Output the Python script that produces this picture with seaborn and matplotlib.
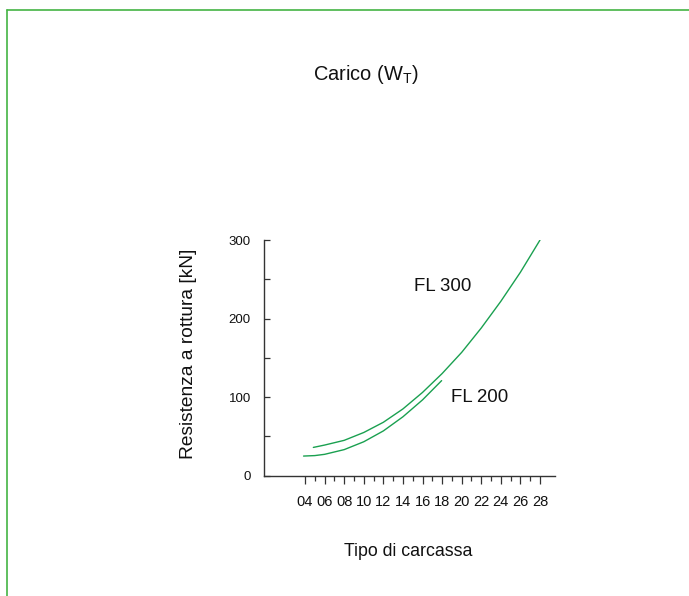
import matplotlib
matplotlib.use("Agg")
import matplotlib.pyplot as plt
from matplotlib.lines import Line2D
from matplotlib.ticker import FixedLocator
from matplotlib import font_manager
from matplotlib.font_manager import FontProperties
import seaborn as sns
import pandas as pd

# Data
fl300_x = [4.85, 6, 8, 10, 12, 14, 16, 18, 20, 22, 24, 26, 28]
fl300_y = [36, 39, 45, 55, 68, 85, 106, 130, 157, 188, 222, 259, 300]
fl200_x = [3.85, 5, 6, 8, 10, 12, 14, 16, 17.95]
fl200_y = [25, 25.6, 27.2, 33.2, 43.2, 57, 75, 96.5, 121]
x_ticks = [4, 6, 8, 10, 12, 14, 16, 18, 20, 22, 24, 26, 28]
x_minor = [5, 7, 9, 11, 13, 15, 17, 19, 21, 23, 25, 27]
x_tick_labels = ["04", "06", "08", "10", "12", "14", "16", "18", "20", "22", "24", "26", "28"]
y_ticks = [0, 100, 200, 300]
y_minor = [50, 150, 250]
series_names = ["FL 300", "FL 200"]

sns.set_style("white")
plt.rcParams['font.family'] = ['Liberation Sans', 'DejaVu Sans']
plt.rcParams['mathtext.fontset'] = 'custom'
plt.rcParams['mathtext.rm'] = 'Liberation Sans'

try:
    font_manager.findfont(FontProperties(family='Liberation Sans Narrow'),
                          fallback_to_default=False)
    narrow = ['Liberation Sans Narrow', 'Liberation Sans', 'DejaVu Sans']
except Exception:
    narrow = ['Liberation Sans', 'DejaVu Sans']

df = pd.concat([
    pd.DataFrame({"x": fl300_x, "y": fl300_y, "s": series_names[0]}),
    pd.DataFrame({"x": fl200_x, "y": fl200_y, "s": series_names[1]}),
])

fig = plt.figure(figsize=(6.89, 5.96), dpi=100)
ax = fig.add_axes([264 / 689, 1 - 475.7 / 596, 291 / 689, 235.7 / 596])
green = "#1aa050"
for name in series_names:
    sub = df[df["s"] == name]
    sns.lineplot(data=sub, x="x", y="y", ax=ax, color=green, lw=1.0,
                 estimator=None)

ax.set_xlim(-0.19, 29.53)
ax.set_ylim(0, 300)
ax.spines['top'].set_visible(False)
ax.spines['right'].set_visible(False)
for sp in ['left', 'bottom']:
    ax.spines[sp].set_color('#333333')
    ax.spines[sp].set_linewidth(1.0)

ax.xaxis.set_major_locator(FixedLocator(x_ticks))
ax.set_xticklabels(x_tick_labels)
ax.xaxis.set_minor_locator(FixedLocator(x_minor))
ax.yaxis.set_major_locator(FixedLocator(y_ticks))
ax.yaxis.set_minor_locator(FixedLocator(y_minor))
ax.tick_params(axis='x', which='both', bottom=True)
ax.tick_params(axis='y', which='both', left=True)
ax.tick_params(axis='x', which='major', direction='out', length=5.6, width=0.9,
               color='#333333', labelsize=10.5, pad=8, labelcolor='#111111')
ax.tick_params(axis='x', which='minor', direction='out', length=3.3, width=0.9,
               color='#333333')
ax.tick_params(axis='y', which='major', direction='in', length=4, width=0.9,
               color='#333333', labelsize=9.5, pad=9.5, labelcolor='#111111')
ax.tick_params(axis='y', which='minor', direction='in', length=4, width=0.9,
               color='#333333')
for lab in ax.get_xticklabels() + ax.get_yticklabels():
    lab.set_family(narrow)
ax.set_xlabel("")
ax.set_ylabel("")

ax.text(18.1, 241, series_names[0], fontsize=13.4, ha='center', va='center',
        color='#111111')
ax.text(21.85, 99, series_names[1], fontsize=13.4, ha='center', va='center',
        color='#111111')

fig.text(189 / 689, 1 - 354 / 596, "Resistenza a rottura [kN]", rotation=90,
         fontsize=13.8, ha='center', va='center', color='#111111')
fig.text(408 / 689, 1 - 552 / 596, "Tipo di carcassa", fontsize=12.8,
         ha='center', va='center', color='#111111')
fig.text(365.5 / 689, 1 - 75 / 596, r"Carico (W$_\mathrm{T}$)", fontsize=14.4,
         ha='center', va='center', color='#111111')

frame_c = "#44b444"
fig.add_artist(Line2D([7 / 689, 1], [1 - 10 / 596, 1 - 10 / 596], color=frame_c,
                      lw=1.2, transform=fig.transFigure))
fig.add_artist(Line2D([7 / 689, 7 / 689], [1 - 10 / 596, 0], color=frame_c,
                      lw=1.2, transform=fig.transFigure))

fig.savefig("out.png", dpi=100)
